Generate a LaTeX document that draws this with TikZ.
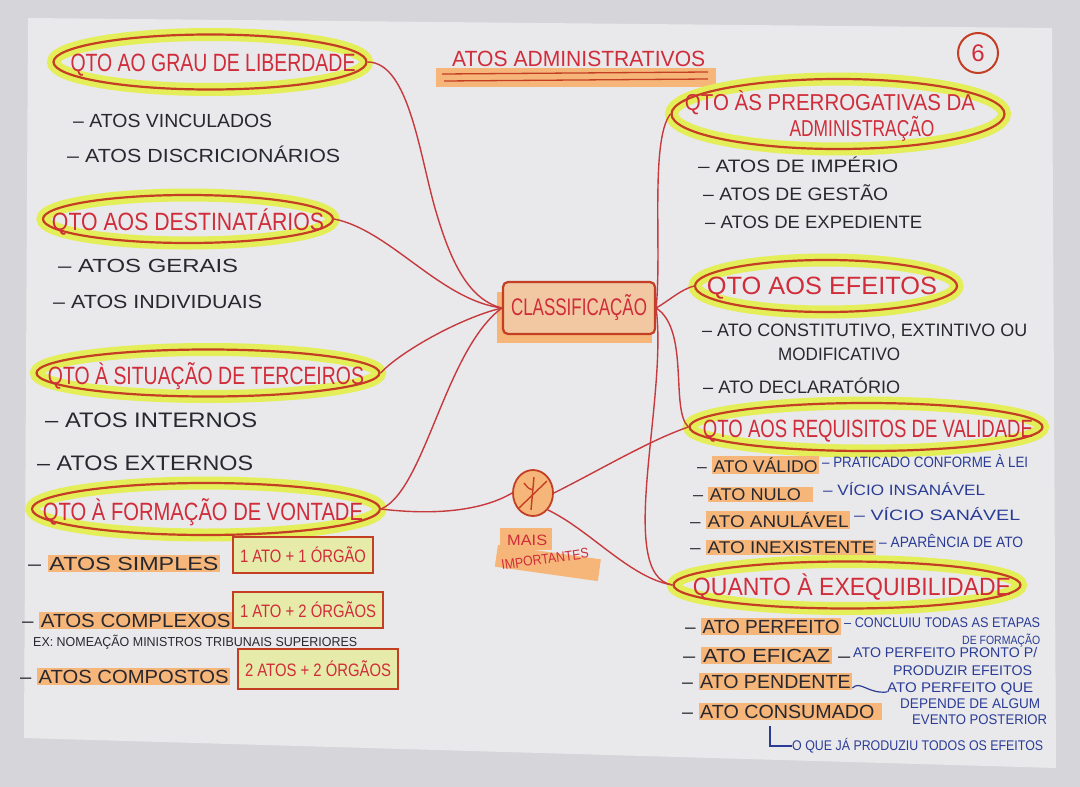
\documentclass[tikz,border=0pt]{standalone}
\usepackage{fontspec}
\setmainfont{Liberation Sans}
\usetikzlibrary{shapes.geometric}
\newcommand{\fitw}[2]{\resizebox{#1pt}{\height}{#2}}
\definecolor{outside}{RGB}{214,214,218}
\definecolor{board}{RGB}{233,233,236}
\definecolor{hlyellow}{RGB}{228,238,88}
\definecolor{hlorange}{RGB}{246,182,122}
\definecolor{ink}{RGB}{196,62,36}
\definecolor{redtext}{RGB}{208,44,58}
\definecolor{linered}{RGB}{198,58,62}
\definecolor{dark}{RGB}{40,40,48}
\definecolor{bluetext}{RGB}{42,60,150}
\newcommand{\hlw}[1]{{\setlength{\fboxsep}{1.5pt}\colorbox{hlorange}{#1}}}
\begin{document}
\begin{tikzpicture}[x=1pt,y=-1pt,
  topic/.style={ellipse, draw=ink, line width=2.2pt, preaction={draw=hlyellow, line width=13pt},
    inner sep=0pt},
  toptext/.style={anchor=base, inner sep=0pt, text=redtext, font=\fontsize{25}{27}\selectfont},
  item/.style={anchor=base west, inner sep=0pt, text=dark, font=\fontsize{19}{21}\selectfont},
  smallitem/.style={item, font=\fontsize{17}{19}\selectfont},
  expl/.style={anchor=base west, inner sep=0pt, text=bluetext, font=\fontsize{15}{17}\selectfont},
  rulebox/.style={draw=ink, line width=1.6pt, fill=hlyellow!45!board, inner sep=0pt, text=redtext,
    font=\fontsize{18}{20}\selectfont},
  hl/.style={fill=hlorange},
  conn/.style={draw=linered, line width=1.4pt}]
\fill[outside] (0,0) rectangle (1080,787);
\fill[board] (28,18) -- (1052,28) -- (1056,768) -- (24,738) -- cycle;
\useasboundingbox (0,0) rectangle (1080,787);

% title
\fill[hlorange] (436,68) rectangle (716,87);
\draw[ink, line width=1.3pt] (442,74) -- (708,72);
\draw[ink, line width=1.3pt] (444,81) -- (708,79);
\node[anchor=base west, inner sep=0pt, text=redtext, font=\fontsize{22}{24}\selectfont] (title) at (452,66) {\fitw{253}{ATOS ADMINISTRATIVOS}};
\node[circle, draw=ink, line width=2pt, minimum size=40pt, inner sep=0pt, text=redtext, font=\fontsize{24}{26}\selectfont] (num) at (978,53) {6};

% centre
\fill[hl] (497,292) rectangle (652,343);
\node[draw=ink, line width=2.2pt, fill=hlorange!65!board, rounded corners=5pt, minimum width=152pt, minimum height=52pt,
  inner sep=0pt, text=redtext, font=\fontsize{24}{26}\selectfont] (cls) at (579,308) {\fitw{136}{CLASSIFICAÇÃO}};

% star
\node[ellipse, draw=ink, line width=1.8pt, fill=hlorange, minimum width=40pt, minimum height=46pt, inner sep=0pt] (star) at (533,493) {};
\draw[ink, line width=1.4pt] ([shift={(1pt,16pt)}]star.center) -- ([shift={(-2pt,-17pt)}]star.center);
\draw[ink, line width=1.4pt] ([shift={(-14pt,-15pt)}]star.center) -- ([shift={(14pt,12pt)}]star.center);
\draw[ink, line width=1.4pt] ([shift={(-9pt,10pt)}]star.center) .. controls ([shift={(-4pt,4pt)}]star.center) .. ([shift={(0pt,3pt)}]star.center);
\fill[hl] (500,528) rectangle (552,550);
\node[anchor=base west, inner sep=0pt, text=redtext, font=\fontsize{15}{17}\selectfont] (mais) at (507,545) {\fitw{40}{MAIS}};
\fill[hl, rotate around={-8:(548,562)}] (496,552) rectangle (600,574);
\node[anchor=base west, inner sep=0pt, text=redtext, font=\fontsize{14}{16}\selectfont, rotate=8] (imp) at (502,570) {\fitw{88}{IMPORTANTES}};

% topics
\node[topic, minimum width=313pt, minimum height=55pt] (grau) at (210,62) {};
\node[toptext] (grau-t) at (213,71) {\fitw{285}{QTO AO GRAU DE LIBERDADE}};
\node[topic, minimum width=290pt, minimum height=48pt] (dest) at (188,219) {};
\node[toptext] (dest-t) at (188,230) {\fitw{272}{QTO AOS DESTINATÁRIOS}};
\node[topic, minimum width=343pt, minimum height=47pt] (terc) at (208,373) {};
\node[toptext] (terc-t) at (206,384) {\fitw{316}{QTO À SITUAÇÃO DE TERCEIROS}};
\node[topic, minimum width=348pt, minimum height=52pt] (vont) at (206,509) {};
\node[toptext] (vont-t) at (203,520) {\fitw{320}{QTO À FORMAÇÃO DE VONTADE}};
\node[topic, minimum width=333pt, minimum height=70pt] (prer) at (838,114) {};
\node[toptext, font=\fontsize{23}{25}\selectfont] (prer-t1) at (830,110) {\fitw{290}{QTO ÀS PRERROGATIVAS DA}};
\node[toptext, font=\fontsize{23}{25}\selectfont] (prer-t2) at (862,136) {\fitw{145}{ADMINISTRAÇÃO}};
\node[topic, minimum width=262pt, minimum height=52pt] (efei) at (826,286) {};
\node[toptext] (efei-t) at (822,294) {\fitw{230}{QTO AOS EFEITOS}};
\node[topic, minimum width=353pt, minimum height=48pt] (requ) at (866,427) {};
\node[toptext] (requ-t) at (868,437) {\fitw{330}{QTO AOS REQUISITOS DE VALIDADE}};
\node[topic, minimum width=347pt, minimum height=47pt] (exeq) at (847,585) {};
\node[toptext] (exeq-t) at (852,595) {\fitw{318}{QUANTO À EXEQUIBILIDADE}};

% connectors
\draw[conn] (grau.east) .. controls (410,62) and (420,160) .. (437,215) .. controls (452,265) and (470,300) .. (cls.west);
\draw[conn] (dest.east) .. controls (390,230) and (440,300) .. (cls.west);
\draw[conn] (terc.east) .. controls (400,352) and (460,318) .. (cls.west);
\draw[conn] (vont.east) .. controls (425,490) and (445,350) .. (cls.west);
\draw[conn] (vont.east) .. controls (430,515) and (480,512) .. (star.west);
\draw[conn] (star.east) .. controls (600,470) and (650,440) .. (requ.west);
\draw[conn] (star.south east) .. controls (590,530) and (630,578) .. (exeq.west);
\draw[conn] (cls.east) .. controls (662,250) and (650,140) .. (prer.west);
\draw[conn] (cls.east) .. controls (670,300) and (680,290) .. (efei.west);
\draw[conn] (cls.east) .. controls (690,330) and (670,410) .. (requ.west);
\draw[conn] (cls.east) .. controls (668,400) and (615,575) .. (exeq.west);

% left items
\node[item] (g1) at (73,127) {\fitw{199}{– ATOS VINCULADOS}};
\node[item] (g2) at (67,162) {\fitw{273}{– ATOS DISCRICIONÁRIOS}};
\node[item] (d1) at (58,272) {\fitw{180}{– ATOS GERAIS}};
\node[item] (d2) at (53,308) {\fitw{209}{– ATOS INDIVIDUAIS}};
\node[item, font=\fontsize{21}{23}\selectfont] (t1) at (45,427) {\fitw{212}{– ATOS INTERNOS}};
\node[item, font=\fontsize{21}{23}\selectfont] (t2) at (37,470) {\fitw{216}{– ATOS EXTERNOS}};

\node[item] (v1) at (28,570) {\fitw{192}{– \hlw{ATOS SIMPLES}}};
\node[rulebox, minimum width=140pt, minimum height=36pt] (v1b) at (303,555) {\fitw{126}{1 ATO + 1 ÓRGÃO}};
\node[item] (v2) at (22,627) {\fitw{210}{– \hlw{ATOS COMPLEXOS}}};
\node[rulebox, minimum width=150pt, minimum height=36pt] (v2b) at (308,610) {\fitw{136}{1 ATO + 2 ÓRGÃOS}};
\node[item, font=\fontsize{13}{15}\selectfont] (vex) at (33,646) {\fitw{324}{EX: NOMEAÇÃO MINISTROS TRIBUNAIS SUPERIORES}};
\node[item] (v3) at (20,683) {\fitw{210}{– \hlw{ATOS COMPOSTOS}}};
\node[rulebox, minimum width=160pt, minimum height=40pt] (v3b) at (318,669) {\fitw{146}{2 ATOS + 2 ÓRGÃOS}};

% right items
\node[item, font=\fontsize{18}{20}\selectfont] (p1) at (698,172) {\fitw{200}{– ATOS DE IMPÉRIO}};
\node[item, font=\fontsize{18}{20}\selectfont] (p2) at (703,200) {\fitw{185}{– ATOS DE GESTÃO}};
\node[item, font=\fontsize{18}{20}\selectfont] (p3) at (705,228) {\fitw{217}{– ATOS DE EXPEDIENTE}};

\node[item, font=\fontsize{18}{20}\selectfont] (e1) at (702,336) {\fitw{325}{– ATO CONSTITUTIVO, EXTINTIVO OU}};
\node[item, font=\fontsize{18}{20}\selectfont] (e2) at (778,360) {\fitw{122}{MODIFICATIVO}};
\node[item, font=\fontsize{18}{20}\selectfont] (e3) at (703,393) {\fitw{197}{– ATO DECLARATÓRIO}};

\node[smallitem] (r1) at (697,472) {\fitw{122}{– \hlw{ATO VÁLIDO}}};
\node[expl] (r1b) at (822,467) {\fitw{206}{– PRATICADO CONFORME À LEI}};
\node[smallitem] (r2) at (693,500) {\fitw{120}{– \hlw{ATO NULO\hspace*{10pt}}}};
\node[expl] (r2b) at (823,495) {\fitw{162}{– VÍCIO INSANÁVEL}};
\node[smallitem] (r3) at (690,527) {\fitw{160}{– \hlw{ATO ANULÁVEL}}};
\node[expl] (r3b) at (854,520) {\fitw{166}{– VÍCIO SANÁVEL}};
\node[smallitem] (r4) at (690,553) {\fitw{186}{– \hlw{ATO INEXISTENTE}}};
\node[expl] (r4b) at (879,547) {\fitw{144}{– APARÊNCIA DE ATO}};

\node[item] (x1) at (685,633) {\fitw{156}{– \hlw{ATO PERFEITO}}};
\node[expl, font=\fontsize{14}{16}\selectfont] (x1b) at (844,627) {\fitw{196}{– CONCLUIU TODAS AS ETAPAS}};
\node[expl, font=\fontsize{12}{14}\selectfont] (x1c) at (962,644) {\fitw{78}{DE FORMAÇÃO}};
\node[item] (x2) at (683,662) {\fitw{167}{– \hlw{ATO EFICAZ} –}};
\node[expl, font=\fontsize{14}{16}\selectfont] (x2b) at (853,657) {\fitw{184}{ATO PERFEITO PRONTO P/}};
\node[expl, font=\fontsize{14}{16}\selectfont] (x2c) at (893,675) {\fitw{139}{PRODUZIR EFEITOS}};
\node[item] (x3) at (682,688) {\fitw{170}{– \hlw{ATO PENDENTE}}};
\node[expl, font=\fontsize{14}{16}\selectfont] (x3b) at (887,692) {\fitw{146}{ATO PERFEITO QUE}};
\node[expl, font=\fontsize{14}{16}\selectfont] (x3c) at (900,708) {\fitw{140}{DEPENDE DE ALGUM}};
\node[expl, font=\fontsize{14}{16}\selectfont] (x3d) at (912,724) {\fitw{135}{EVENTO POSTERIOR}};
\draw[bluetext, line width=1.2pt] (x3.base east) .. controls (860,680) and (868,694) .. (x3b.base west);
\node[item] (x4) at (682,718) {\fitw{200}{– \hlw{ATO CONSUMADO\hspace*{6pt}}}};
\node[expl, font=\fontsize{14}{16}\selectfont] (x5) at (792,750) {\fitw{251}{O QUE JÁ PRODUZIU TODOS OS EFEITOS}};
\draw[bluetext, line width=1.2pt] ([xshift=88pt,yshift=-8pt]x4.base west) |- ([yshift=4pt]x5.base west);
\end{tikzpicture}
\end{document}
